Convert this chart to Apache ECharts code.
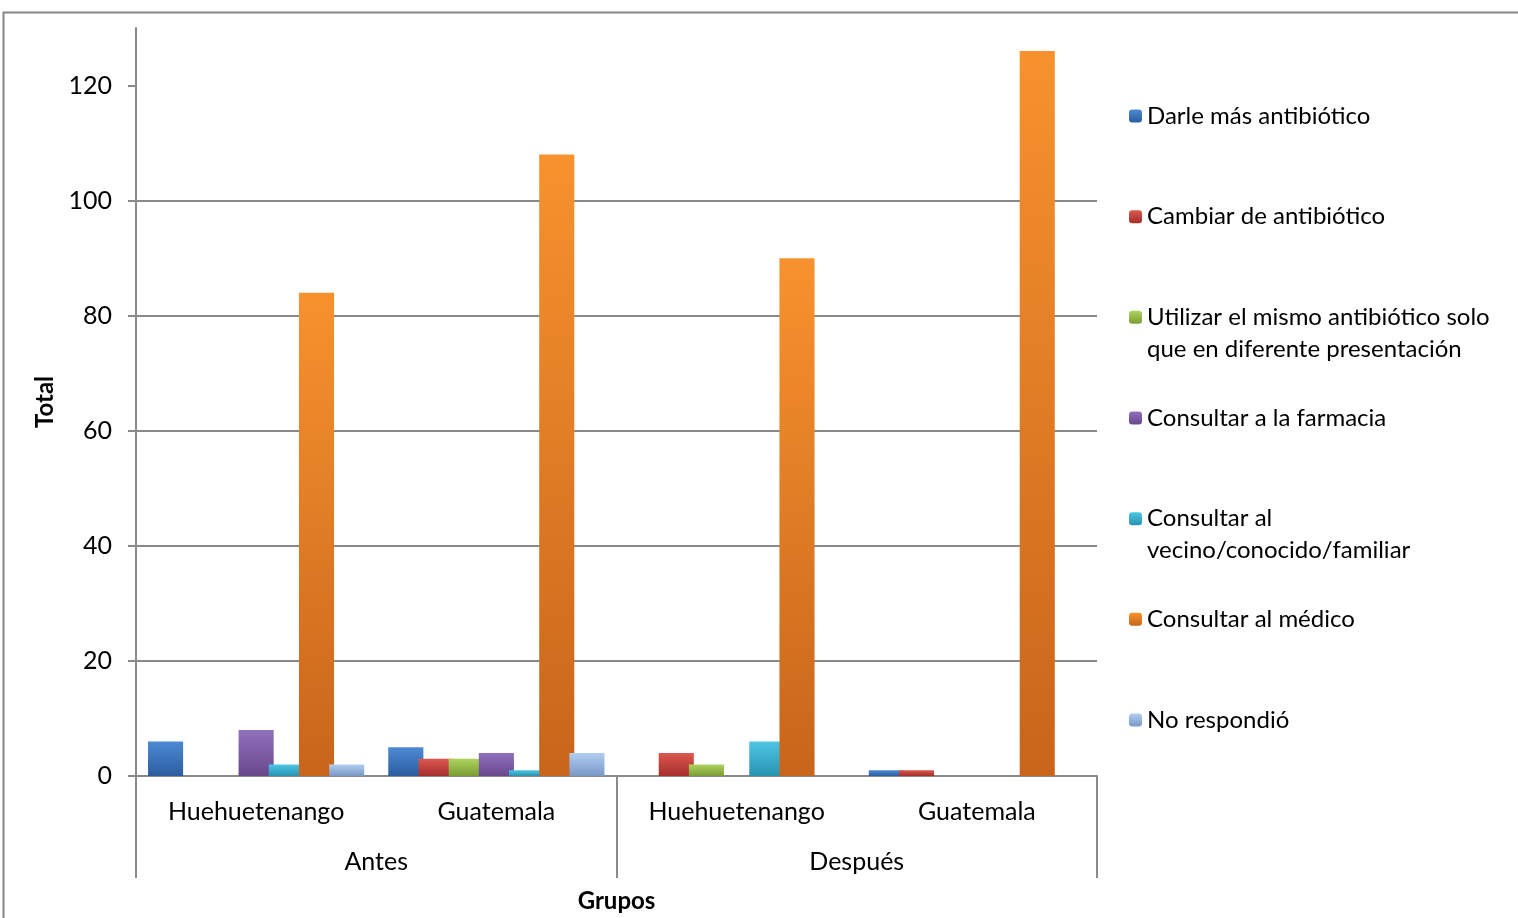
<!DOCTYPE html>
<html>
<head>
<meta charset="utf-8">
<script src="https://cdn.jsdelivr.net/npm/echarts@6/dist/echarts.min.js"></script>
<style>
  html, body { margin: 0; padding: 0; background: #ffffff; }
  #chart { width: 1518px; height: 918px; }
</style>
</head>
<body>
<div id="chart"></div>
<script>
// Outer groups (period) and inner categories (place)
const groups = ['Antes', 'Después'];
const places = ['Huehuetenango', 'Guatemala'];

// Response options, as series
const seriesNames = [
  'Darle más antibiótico',
  'Cambiar de antibiótico',
  'Utilizar el mismo antibiótico solo que en diferente presentación',
  'Consultar a la farmacia',
  'Consultar al vecino/conocido/familiar',
  'Consultar al médico',
  'No respondió'
];
// Legend text, wrapped the way it is printed
const legendLabels = [
  'Darle más antibiótico',
  'Cambiar de antibiótico',
  'Utilizar el mismo antibiótico solo\nque en diferente presentación',
  'Consultar a la farmacia',
  'Consultar al\nvecino/conocido/familiar',
  'Consultar al médico',
  'No respondió'
];

// Counts per category: Antes-Huehuetenango, Antes-Guatemala, Después-Huehuetenango, Después-Guatemala
const darleMas     = [6, 5, 0, 1];
const cambiar      = [0, 3, 4, 1];
const mismoAntib   = [0, 3, 2, 0];
const farmacia     = [8, 4, 0, 0];
const vecino       = [2, 1, 6, 0];
const medico       = [84, 108, 90, 126];
const noRespondio  = [2, 4, 0, 0];

// Value axis ticks
const yTicks = [0, 20, 40, 60, 80, 100, 120];
const yMax = 130;

// Light (top) and dark (bottom) shades of each series fill
const shades = [
  ['#4d8ad4', '#2b5d9e'],
  ['#dc5750', '#a52e2a'],
  ['#afd35e', '#799d33'],
  ['#9270bd', '#67488c'],
  ['#4ec6e4', '#2893b1'],
  ['#f7922e', '#c8651b'],
  ['#b2cdf0', '#7898c6']
];

const values = [darleMas, cambiar, mismoAntib, farmacia, vecino, medico, noRespondio];
const categories = groups.flatMap(g => places.map(p => g + '|' + p));

const FONT = 'Lato, "Open Sans", sans-serif';
const GRID_COLOR = '#898989';

const chart = echarts.init(document.getElementById('chart'), null, { renderer: 'canvas' });

// One legend block per series so entries are evenly spaced like the printed key
const legendFirstCenter = 116;
const legendStep = 100.67;
const legendLine = 32;
const legends = seriesNames.map((name, i) => {
  const label = legendLabels[i];
  const multi = label.indexOf('\n') >= 0;
  // a leading empty line keeps the swatch level with the first printed line
  const text = multi ? '\n' + label : label;
  const lines = text.split('\n').length;
  return {
    data: [name],
    orient: 'vertical',
    left: 1129,
    top: legendFirstCenter + i * legendStep - (lines * legendLine) / 2,
    padding: 0,
    itemWidth: 13,
    itemHeight: 13,
    itemGap: 0,
    selectedMode: false,
    formatter: () => text,
    textStyle: { fontFamily: FONT, fontSize: 24, color: '#000', lineHeight: legendLine }
  };
});

const series = seriesNames.map((name, i) => ({
  name,
  type: 'bar',
  xAxisIndex: 0,
  data: values[i],
  barGap: '-14%',
  barCategoryGap: '10%',
  itemStyle: {
    color: new echarts.graphic.LinearGradient(0, 0, 0, 1, [
      { offset: 0, color: shades[i][0] },
      { offset: 1, color: shades[i][1] }
    ])
  }
}));

const option = {
  backgroundColor: '#ffffff',
  animation: false,
  textStyle: { fontFamily: FONT },
  grid: { left: 136, right: 421, top: 28, bottom: 140, containLabel: false },
  legend: legends,
  xAxis: [
    {
      type: 'category',
      data: categories,
      position: 'bottom',
      axisLine: { show: true, lineStyle: { color: GRID_COLOR, width: 2 } },
      // separators only between the outer groups
      axisTick: {
        show: true,
        interval: idx => idx % places.length === 0,
        length: 102,
        lineStyle: { color: GRID_COLOR, width: 2 }
      },
      axisLabel: {
        interval: 0,
        margin: 23,
        fontFamily: FONT,
        fontSize: 25,
        color: '#000',
        formatter: v => v.split('|')[1]
      },
      splitLine: { show: false }
    },
    {
      type: 'category',
      data: groups,
      position: 'bottom',
      axisLine: { show: false },
      axisTick: { show: false },
      axisLabel: { interval: 0, margin: 73, fontFamily: FONT, fontSize: 25, color: '#000' },
      splitLine: { show: false },
      name: 'Grupos',
      nameLocation: 'middle',
      nameGap: 113,
      nameTextStyle: { fontFamily: FONT, fontSize: 24, fontWeight: 'bold', color: '#000' }
    }
  ],
  yAxis: {
    type: 'value',
    min: 0,
    max: yMax,
    interval: 20,
    name: 'Total',
    nameLocation: 'middle',
    nameRotate: 90,
    nameGap: 77,
    nameTextStyle: { fontFamily: FONT, fontSize: 24, fontWeight: 'bold', color: '#000' },
    axisLine: { show: true, lineStyle: { color: GRID_COLOR, width: 2 } },
    axisTick: { show: true, length: 8, customValues: yTicks, lineStyle: { color: GRID_COLOR, width: 2 } },
    axisLabel: { margin: 24, fontFamily: FONT, fontSize: 25, color: '#000', customValues: yTicks },
    splitLine: { show: true, showMaxLine: false, lineStyle: { color: GRID_COLOR, width: 2 } }
  },
  graphic: [
    {
      type: 'rect',
      left: 1,
      top: 10,
      shape: { width: 1540, height: 940 },
      style: { fill: null, stroke: '#868686', lineWidth: 2 },
      silent: true,
      z: -1
    }
  ],
  series
};

chart.setOption(option);
</script>
</body>
</html>
